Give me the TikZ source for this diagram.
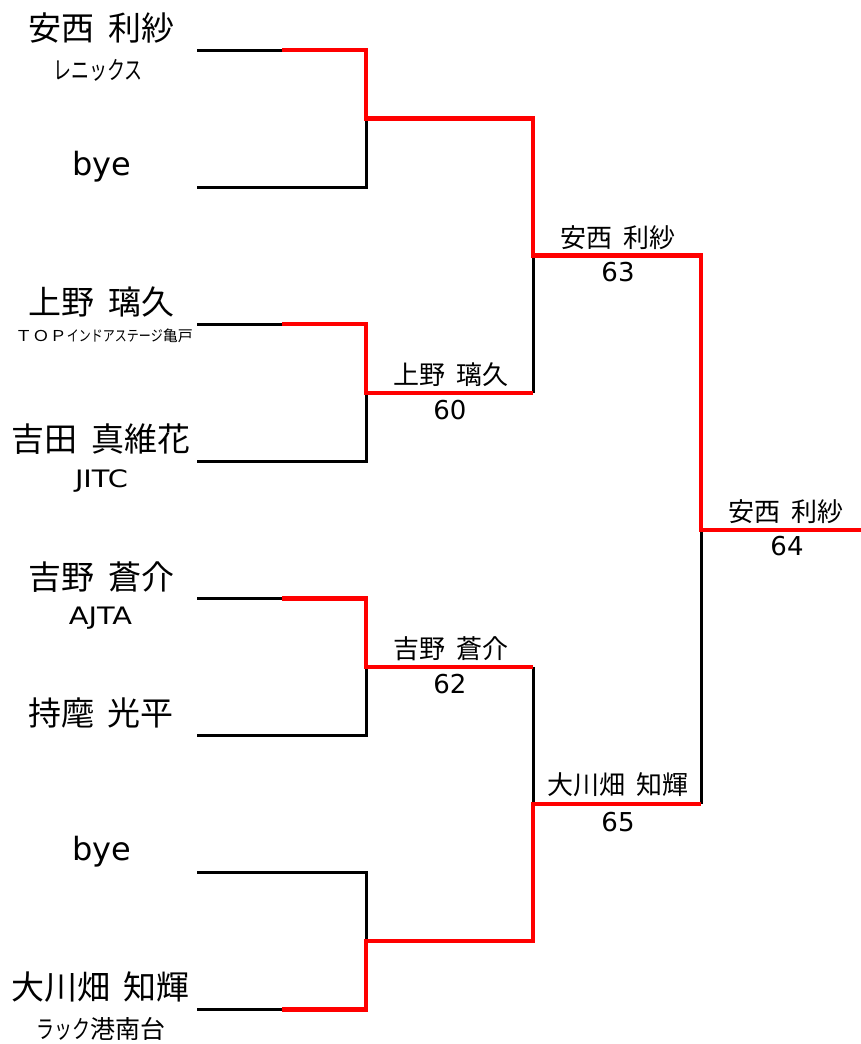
\documentclass[tikz,border=0pt]{standalone}
\usepackage{fontspec}
\usepackage{graphicx}
\setmainfont{Noto Sans CJK JP}
\newfontfamily\latfont{DejaVu Sans}
\newcommand{\nmgap}{\hspace{0.4em}}
\newcommand{\latclub}[1]{\scalebox{1.2}[1]{\latfont\fontsize{24}{26}\selectfont #1}}
\newcommand{\kanacond}[1]{\scalebox{0.72}[1]{#1}}
\begin{document}
\begin{tikzpicture}[x=1pt,y=-1pt,
  pname/.style={font=\fontsize{33}{36}\selectfont,inner sep=0pt,anchor=center},
  pbye/.style={font=\latfont\fontsize{32}{36}\selectfont,inner sep=0pt,anchor=center},
  pclub/.style={font=\fontsize{25}{27}\selectfont,inner sep=0pt,anchor=center},
  rlabel/.style={font=\fontsize{26}{28}\selectfont,inner sep=0pt,anchor=center},
  rscore/.style={font=\latfont\fontsize{26}{28}\selectfont,inner sep=0pt,anchor=center},
  blk/.style={line width=3pt,black,line join=miter},
  win/.style={line width=4.5pt,red,line join=miter}]
\useasboundingbox (0,0) rectangle (861,1044);

% player line coordinates
\foreach \i/\y in {1/50,2/187.1,3/324.2,4/461.3,5/598.4,6/735.5,7/872.6,8/1009.7}{
  \coordinate (a\i) at (197,\y);
  \coordinate (b\i) at (282,\y);
  \coordinate (c\i) at (366,\y);
}
% round 1 results
\coordinate (w1) at (366,118.55);  \coordinate (w1e) at (533,118.55);
\coordinate (w2) at (366,392.75);  \coordinate (w2e) at (533,392.75);
\coordinate (w3) at (366,666.95);  \coordinate (w3e) at (533,666.95);
\coordinate (w4) at (366,941.15);  \coordinate (w4e) at (533,941.15);
% round 2 results
\coordinate (v1) at (533,255.65);  \coordinate (v1e) at (701,255.65);
\coordinate (v2) at (533,804.05);  \coordinate (v2e) at (701,804.05);
% final
\coordinate (f) at (701,529.85);   \coordinate (fe) at (861,529.85);

% black bracket lines
\draw[blk] (a1) -- (c1) -- (c2) -- (a2);
\draw[blk] (a3) -- (c3) -- (c4) -- (a4);
\draw[blk] (a5) -- (c5) -- (c6) -- (a6);
\draw[blk] (a7) -- (c7) -- (c8) -- (a8);
\draw[blk] (w1e) -- (w2e);
\draw[blk] (w3e) -- (w4e);
\draw[blk] (v1e) -- (v2e);

% winner paths
\draw[win] (b1) -- (c1) -- (w1) -- (w1e) -- (v1) -- (v1e) -- (f) -- (fe);
\draw[win] (b3) -- (c3) -- (w2) -- (w2e);
\draw[win] (b5) -- (c5) -- (w3) -- (w3e);
\draw[win] (b8) -- (c8) -- (w4) -- (w4e) -- (v2) -- (v2e);

% players
\node[pname] (n1) at (101.5,28) {安西\nmgap 利紗};
\node[pclub] (k1) at (98,70) {\kanacond{レニックス}};
\node[pbye]  (n2) at (101.5,167) {bye};
\node[pname] (n3) at (101.5,302) {上野\nmgap 璃久};
\node[inner sep=0pt] (k3) at (104,336) {\fontsize{15}{16}\selectfont\scalebox{1.15}[1]{ＴＯＰ}\scalebox{0.8}[1]{インドアステージ}亀戸};
\node[pname] (n4) at (101,439) {吉田\nmgap 真維花};
\node[pclub] (k4) at (101.5,481) {\latclub{JITC}};
\node[pname] (n5) at (101.5,577) {吉野\nmgap 蒼介};
\node[pclub] (k5) at (100.5,618) {\latclub{AJTA}};
\node[pname] (n6) at (101,713) {持麾\nmgap 光平};
\node[pbye]  (n7) at (101.5,852) {bye};
\node[pname] (n8) at (100.5,987) {大川畑\nmgap 知輝};
\node[pclub] (k8) at (101,1029) {\kanacond{ラック}港南台};

% round labels
\node[rlabel] (r2n) at (451,375) {上野\nmgap 璃久};
\node[rscore] (r2s) at (450,410) {60};
\node[rlabel] (r3n) at (451,649) {吉野\nmgap 蒼介};
\node[rscore] (r3s) at (450,684) {62};
\node[rlabel] (q1n) at (618,238) {安西\nmgap 利紗};
\node[rscore] (q1s) at (618,272) {63};
\node[rlabel] (q2n) at (618,785) {大川畑\nmgap 知輝};
\node[rscore] (q2s) at (618,822) {65};
\node[rlabel] (fn) at (786,512) {安西\nmgap 利紗};
\node[rscore] (fs) at (787,546) {64};
\end{tikzpicture}
\end{document}
